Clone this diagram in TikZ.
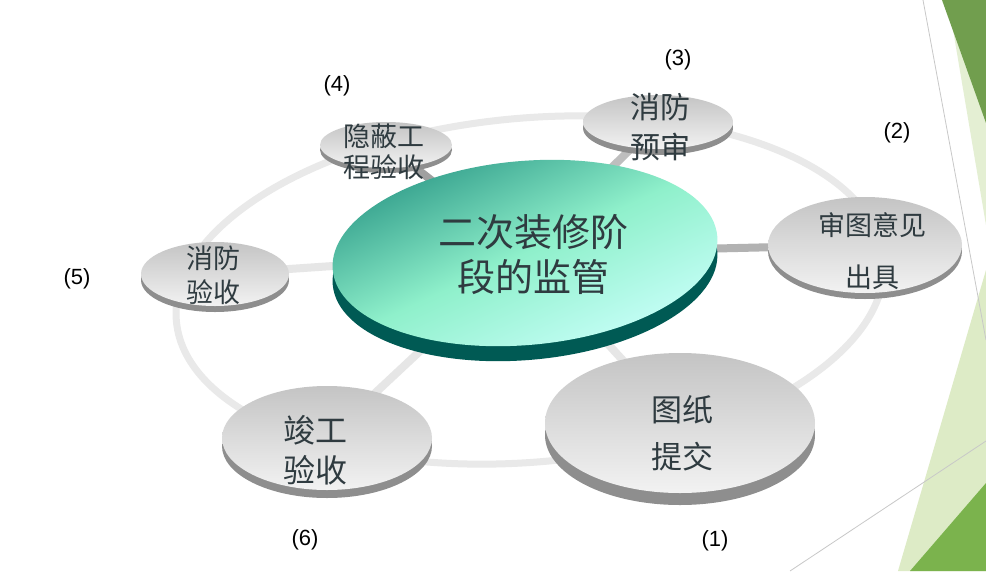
\documentclass[tikz,border=0pt]{standalone}
\usepackage{fontspec}
\setmainfont{Liberation Sans}
\newfontfamily\cjk{Noto Sans CJK SC}
\usetikzlibrary{shapes.geometric,shadows,backgrounds}
\definecolor{ringc}{HTML}{E9E9E9}
\definecolor{spokeL}{HTML}{E6E6E6}
\definecolor{spokeD}{HTML}{B2B2B2}
\definecolor{discTop}{HTML}{C4C4C4}
\definecolor{discBot}{HTML}{F2F2F2}
\definecolor{discSide}{HTML}{8E8E8E}
\definecolor{tealA}{HTML}{2E9A88}
\definecolor{tealB}{HTML}{8FF0CB}
\definecolor{tealC}{HTML}{C9FFFA}
\definecolor{tealSide}{HTML}{005A54}
\definecolor{txt}{HTML}{2F3B40}
\definecolor{gDarkTop}{HTML}{719E4E}
\definecolor{gLightTop}{HTML}{E4EFD3}
\definecolor{gDarkBot}{HTML}{7BB34D}
\definecolor{gLightBot}{HTML}{DDEBC6}
\definecolor{thinline}{HTML}{C8C8C8}
\begin{document}
\begin{tikzpicture}[x=1pt,y=-1pt,
  ringline/.style={draw=ringc, line width=7pt},
  spoke/.style={line width=8pt},
  greydisc/.style={ellipse, inner sep=0pt, draw=none,
    top color=discTop, bottom color=discBot,
    general shadow={shadow yshift=-#1pt, fill=discSide}},
  maindisc/.style={ellipse, inner sep=0pt, draw=none,
    top color=tealA, bottom color=tealC, middle color=tealB, shading angle=25,
    general shadow={shadow yshift=-15pt, fill=tealSide}},
  lbl/.style={text=txt, align=center, inner sep=0pt},
  num/.style={text=black, inner sep=0pt, font=\fontsize{22}{26}\selectfont}
]
\useasboundingbox (0,0) rectangle (986,571);

% discs
\node[maindisc, rotate=5, minimum width=386pt, minimum height=184pt] (c) at (525,253) {};
\node[greydisc=12, minimum width=270pt, minimum height=140pt] (d1) at (680,423) {};
\node[greydisc=6, minimum width=194pt, minimum height=96pt] (d2) at (865,245) {};
\node[greydisc=6, minimum width=150pt, minimum height=54pt] (d3) at (658,122) {};
\node[greydisc=5, minimum width=132pt, minimum height=46pt] (d4) at (386,145) {};
\node[greydisc=6, minimum width=148pt, minimum height=64pt] (d5) at (215,274) {};
\node[greydisc=8, minimum width=210pt, minimum height=104pt] (d6) at (327,438) {};

% texts
\node[lbl, font=\cjk\fontsize{38}{45}\selectfont] (tc) at (533,255) {二次装修阶\\段的监管};
\node[lbl, font=\cjk\fontsize{31}{47}\selectfont] (t1) at (682,433) {图纸\\提交};
\node[lbl, font=\cjk\fontsize{27}{52}\selectfont] (t2) at (872,251) {审图意见\\出具};
\node[lbl, font=\cjk\fontsize{30}{40}\selectfont] (t3) at (660,127) {消防\\预审};
\node[lbl, font=\cjk\fontsize{27}{31}\selectfont] (t4) at (384,152) {隐蔽工\\程验收};
\node[lbl, font=\cjk\fontsize{27}{34}\selectfont] (t5) at (213,275) {消防\\验收};
\node[lbl, font=\cjk\fontsize{32}{40}\selectfont] (t6) at (315,450) {竣工\\验收};

% numbers
\node[num] (n1) at (715,541) {(1)};
\node[num] (n2) at (897,133) {(2)};
\node[num] (n3) at (678,60) {(3)};
\node[num] (n4) at (337,86) {(4)};
\node[num] (n5) at (77,279) {(5)};
\node[num] (n6) at (305,540) {(6)};

% background: ring and spokes
\begin{scope}[on background layer]
  \fill[white] (0,0) rectangle (986,571);
  \draw[ringline, rotate around={5:(530,290)}] (530,290) ellipse [x radius=355, y radius=172];
  \draw[spoke, draw=spokeL] (c.center) -- (d1.center);
  \draw[spoke, draw=spokeD] (c.center) -- (d2.center);
  \draw[spoke, draw=spokeD!85!white] (c.center) -- (d3.center);
  \draw[spoke, draw=spokeD!90!black] (c.center) -- (d4.center);
  \draw[spoke, draw=spokeL] (c.center) -- (d5.center);
  \draw[spoke, draw=spokeL] (c.center) -- (d6.center);
\end{scope}

% right-hand decoration
\fill[gLightTop] (948,0) -- (986,0) -- (986,225) -- cycle;
\fill[gDarkTop] (942,0) -- (986,0) -- (986,123) -- cycle;
\fill[gLightBot] (986,270) -- (986,571) -- (898,571) -- cycle;
\fill[gDarkBot] (986,483) -- (986,571) -- (910,571) -- cycle;
\draw[thinline, line width=0.8pt] (923,0) -- (986,340);
\draw[thinline, line width=0.8pt] (790,571) -- (986,441);
\end{tikzpicture}
\end{document}
